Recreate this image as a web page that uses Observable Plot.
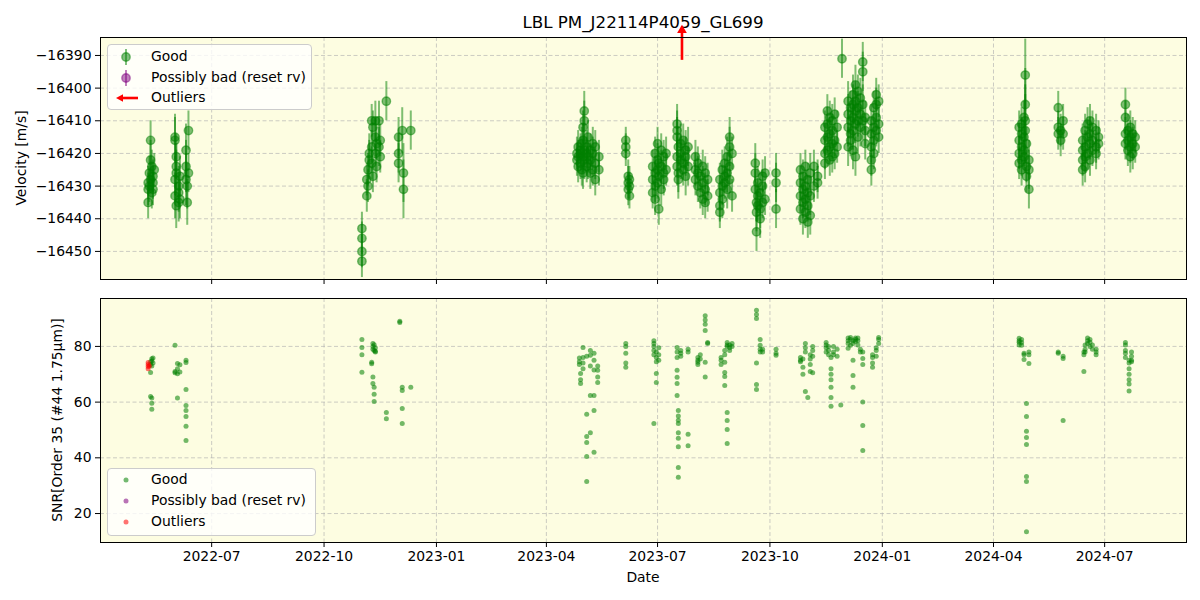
<!DOCTYPE html>
<html>
<head>
<meta charset="utf-8">
<script src="https://cdn.jsdelivr.net/npm/d3@7"></script>
<script src="https://cdn.jsdelivr.net/npm/@observablehq/plot@0.6"></script>
<style>
  body { margin: 0; background: #fff; font-family: "DejaVu Sans", sans-serif; }
  #wrap { position: relative; width: 1200px; height: 600px; overflow: hidden; }
  #wrap svg.plot { position: absolute; left: 0; }
  .legend { position: absolute; background: rgba(255,255,255,0.8); border: 1px solid #cccccc; border-radius: 4px; box-sizing: border-box; }
  .legend .item { position: absolute; left: 0; height: 20px; width: 100%; }
  .legend .item svg { position: absolute; left: 0; top: 0; }
  .legend .item span { position: absolute; left: 43px; top: 1px; font-size: 13.9px; color: #000; white-space: nowrap; }
  #title { position: absolute; left: 343px; width: 600px; top: 12px; text-align: center; font-size: 16.7px; }
</style>
</head>
<body>
<div id="wrap">
  <div id="title">LBL PM_J22114P4059_GL699</div>
</div>
<script>
// ---------------- data ----------------
const xTickDates = ["2022-07-01","2022-10-01","2023-01-01","2023-04-01","2023-07-01","2023-10-01","2024-01-01","2024-04-01","2024-07-01"];
const velocityTicks = [-16450, -16440, -16430, -16420, -16410, -16400, -16390];
const snrTicks = [20, 40, 60, 80];

// velocity observations: one date, several values, one typical error
const rvDates = [
  "2022-05-10","2022-05-11","2022-05-12","2022-05-13","2022-05-14","2022-05-15",
  "2022-06-01","2022-06-02","2022-06-04","2022-06-05","2022-06-10","2022-06-11","2022-06-12",
  "2022-11-01","2022-11-05","2022-11-06","2022-11-07","2022-11-09","2022-11-10","2022-11-12","2022-11-13","2022-11-15","2022-11-16","2022-11-21",
  "2022-12-01","2022-12-04","2022-12-05","2022-12-11",
  "2023-04-26","2023-04-27","2023-04-29","2023-04-30","2023-05-01","2023-05-02","2023-05-04","2023-05-05","2023-05-07","2023-05-09","2023-05-11","2023-05-14",
  "2023-06-05","2023-06-07","2023-06-08",
  "2023-06-27","2023-06-29","2023-07-01","2023-07-02","2023-07-04","2023-07-06","2023-07-08",
  "2023-07-17","2023-07-18","2023-07-20","2023-07-22","2023-07-24","2023-07-26",
  "2023-08-01","2023-08-03","2023-08-05","2023-08-07","2023-08-09","2023-08-11",
  "2023-08-21","2023-08-23","2023-08-25","2023-08-27","2023-08-29","2023-08-31",
  "2023-09-19","2023-09-20","2023-09-21","2023-09-23","2023-09-25","2023-09-27","2023-10-06",
  "2023-10-26","2023-10-28","2023-10-30","2023-11-01","2023-11-03","2023-11-06","2023-11-09",
  "2023-11-15","2023-11-17","2023-11-19","2023-11-21","2023-11-23","2023-11-25","2023-11-29",
  "2023-12-04","2023-12-06","2023-12-08","2023-12-10","2023-12-12","2023-12-14","2023-12-16","2023-12-18",
  "2023-12-23","2023-12-25","2023-12-27","2023-12-29",
  "2024-04-22","2024-04-24","2024-04-26","2024-04-27","2024-04-28","2024-04-30",
  "2024-05-24","2024-05-26","2024-05-28",
  "2024-06-13","2024-06-15","2024-06-17","2024-06-19","2024-06-21","2024-06-24","2024-06-26",
  "2024-07-18","2024-07-20","2024-07-22","2024-07-24","2024-07-26"
];
const rvValues = [
  [-16429,-16431,-16435],[-16426,-16430],[-16422,-16416,-16428],[-16424,-16432],[-16429,-16427,-16431],[-16425],
  [-16415,-16416,-16428,-16433],[-16421,-16424,-16426,-16436],[-16430,-16435,-16432],[-16427,-16434],[-16419,-16424,-16428],[-16430,-16435],[-16413,-16426],
  [-16443,-16446,-16450,-16453],[-16428,-16433],[-16430,-16425],[-16420,-16422],[-16410,-16418,-16423],[-16412,-16427],[-16410,-16415,-16420],[-16424,-16417],[-16418,-16410],[-16416,-16421],[-16404],
  [-16415,-16420,-16423],[-16413],[-16431,-16426],[-16413],
  [-16420,-16422],[-16418,-16421,-16424],[-16419,-16423,-16420],[-16417,-16425],[-16412,-16416,-16421,-16426],[-16407,-16410,-16419,-16422],[-16420,-16424,-16418],[-16415,-16423,-16421],[-16419,-16422,-16426],[-16417,-16420,-16425],[-16418,-16423,-16428],[-16421,-16425],
  [-16416,-16420,-16418],[-16427,-16429,-16431],[-16428,-16433,-16430],
  [-16424,-16428,-16432],[-16420,-16426,-16430,-16434],[-16417,-16422,-16425,-16429],[-16437,-16427,-16423],[-16419,-16424,-16431],[-16421,-16426,-16428],[-16420,-16425],
  [-16411,-16413,-16415,-16421,-16424],[-16418,-16426,-16428],[-16417,-16422,-16420],[-16416,-16423,-16425],[-16419,-16421,-16427],[-16418,-16424],
  [-16421,-16425,-16428],[-16423,-16430,-16426],[-16427,-16432],[-16424,-16429,-16434],[-16426,-16431,-16435],[-16428,-16433],
  [-16428,-16432,-16436,-16438],[-16425,-16430,-16434],[-16423,-16427,-16429],[-16421,-16426,-16431],[-16415,-16418,-16424,-16428],[-16420,-16433],
  [-16423,-16426,-16431],[-16435,-16438,-16444],[-16429,-16433,-16436],[-16432,-16437,-16440],[-16427,-16430,-16435],[-16426,-16434],[-16426,-16429,-16437],
  [-16425,-16429,-16433,-16437],[-16427,-16431,-16435,-16440],[-16424,-16430,-16434,-16438],[-16428,-16432,-16436,-16441],[-16426,-16433,-16439],[-16424,-16430],[-16427,-16429],
  [-16412,-16416,-16420,-16423],[-16407,-16411,-16415,-16419],[-16409,-16414,-16418,-16422],[-16410,-16413,-16417,-16421],[-16408,-16416,-16420],[-16412,-16418],[-16391],
  [-16404,-16408,-16412,-16418],[-16406,-16410,-16414,-16416],[-16402,-16405,-16409,-16413,-16419],[-16399,-16404,-16407,-16411,-16421],[-16401,-16406,-16410,-16415],[-16403,-16408,-16412],[-16395,-16392,-16405,-16410],[-16409,-16413,-16417],
  [-16410,-16414,-16418,-16422,-16425],[-16406,-16412,-16416,-16420],[-16402,-16405,-16409,-16413],[-16404,-16411,-16415],
  [-16412,-16416,-16420,-16423],[-16411,-16414,-16418,-16422,-16425],[-16409,-16415,-16419,-16421],[-16396,-16405,-16410,-16413],[-16417,-16424,-16427],[-16422,-16425,-16431],
  [-16406,-16412,-16414],[-16413,-16416],[-16410,-16414],
  [-16416,-16419,-16422,-16425],[-16413,-16418,-16421,-16424],[-16411,-16415,-16420],[-16410,-16414,-16417,-16422],[-16412,-16416,-16419],[-16413,-16418,-16420],[-16415,-16417],
  [-16405,-16409,-16414,-16417],[-16413,-16416,-16419],[-16412,-16415,-16418,-16421],[-16414,-16417,-16420],[-16415,-16418]
];
const rvErrors = [
  5,5,6,5,5,5,
  7,7,6,6,8,7,6,
  5,5,5,6,5,5,6,5,6,5,6,
  6,7,9,6,
  5,5,5,5,5,6,5,5,5,5,5,5,
  4,5,4,
  5,5,5,5,5,5,5,
  6,6,6,5,6,6,
  5,5,5,5,5,5,
  5,6,5,6,6,5,
  6,6,5,6,5,5,6,
  5,5,5,5,6,5,5,
  5,5,5,5,5,5,6,
  6,5,6,6,5,6,6,5,
  5,5,5,5,
  5,5,5,11,5,6,
  5,5,5,
  5,5,5,5,5,5,5,
  5,5,5,5,5
];

// outlier arrow (value above the plotted range)
const outlierRvDates = ["2023-07-21"];

// SNR observations
const snrDates = [
  "2022-05-12","2022-05-13","2022-05-14","2022-06-01","2022-06-03","2022-06-05","2022-06-10",
  "2022-11-01","2022-11-09","2022-11-10","2022-11-11","2022-11-12","2022-11-21","2022-12-02","2022-12-04","2022-12-11",
  "2023-04-28","2023-04-29","2023-05-01","2023-05-04","2023-05-07","2023-05-10","2023-05-13",
  "2023-06-05","2023-06-28","2023-06-30","2023-07-02",
  "2023-07-17","2023-07-18","2023-07-20","2023-07-26",
  "2023-08-03","2023-08-05","2023-08-09","2023-08-11",
  "2023-08-22","2023-08-25","2023-08-27","2023-08-29","2023-08-31",
  "2023-09-20","2023-09-23","2023-09-25","2023-10-06",
  "2023-10-26","2023-10-28","2023-10-30","2023-11-01","2023-11-03","2023-11-05",
  "2023-11-16","2023-11-18","2023-11-20","2023-11-22","2023-11-25","2023-11-28",
  "2023-12-04","2023-12-06","2023-12-08","2023-12-10","2023-12-12","2023-12-14","2023-12-16",
  "2023-12-24","2023-12-27","2023-12-29",
  "2024-04-22","2024-04-24","2024-04-26","2024-04-28","2024-04-30",
  "2024-05-24","2024-05-28",
  "2024-06-14","2024-06-15","2024-06-17","2024-06-19","2024-06-21","2024-06-24",
  "2024-07-18","2024-07-21","2024-07-23"
];
const snrValues = [
  [74.5,73.5,70.6,62],[75.6,74.8,73,61.5,59.6,57.4],[75.8,74],[80.4,71,70.5],[72,70.2,73.9,61.5],[70.8,73.4],[75,74.2,64.5,58.8,57,54.8,51.3,46.2],
  [82.5,79.6,77,70.7],[74.3,73.8],[81,80,79,69,66.7],[80.6,78.5,65.3,62.8,60.2],[79.5,78.3,78],[56.3,54],[88.6,89],[65.3,64.2,57.7,52.3],[65.3],
  [74.5,73.5,75.8],[70.3,68,66.7],[79.6,76,74,72],[55.6,47.7,45.5,40.5,31.5,76.5],[78.5,76.8,73,62.4,49],[77.5,75,71.5,62.4,57,42],[71.4,69,67,73],
  [81,80,77.5,74,72.5],[82,81,80,78.5,77,52.3],[78,76,74.5,70.3,67],[79.5,77,75],
  [79.6,78,76,71.4,68.9,66.7,62.4],[57,55,53.5,52.3,49,47,44,36.5,33],[78.5,77.5,76.5],[79,78,44.3,48.5],
  [76,75,74.3,73.5],[77,75.5],[91,89.5,88,85.7,74.3,69],[81.4,81],
  [76,75,73.5],[78.5,77,74.3,70.6,69.2,66],[81.4,80.5,80,56.3,53.4,50.2,45.1],[80.5,79.5,78.5],[81,80],
  [93,91.5,90,74,66.3,64.5],[80.4,79,78,82.5],[79,78],[79,77.5,76.8],
  [76,75,74.5],[75.5,72.5,70],[81,79.5,78,63.8],[61.7],[77,75.5,71,73.5],[80,78.5,76.5,70.5],
  [81.4,80.5,79.5,78],[80,78.5,77],[76,72,70,68,65.3,61.7,58.5],[80,78,77],[79,76.5],[59],
  [83,82,81,79.3],[83.2,82.5,80.4],[82,81,75,69.6,65.3],[83,82.5,81.8],[83,82,80.5],[79,78],[78,75.7,73.5,60,51.6,42.6],
  [77,76,74,72.5],[79.5,78.5,76.5],[83.2,82.5,81],
  [82.9,82,81.5,80.5],[82.5,81.4,80.4],[77.5,77,75.3],[59.5,54.8,49.5,47.3,44.8,33.3,31.5,13.5],[78,77,73.9],
  [78,77.5],[76.5,75.7,53.4],
  [77,78,71],[78,79,80.5],[81,82,83],[82.5,81.5,80],[80.5,79],[78,77,79],
  [81.4,80.5,78.5,77.5,76],[75,74,72,70,68,66.5,64],[78,76.5,75,74.5]
];
const outlierSnrDates = ["2022-05-10","2022-05-10","2022-05-10","2022-05-10","2022-05-11"];
const outlierSnrValues = [72.0, 72.8, 73.5, 74.2, 73.0];

// ---------------- build tables ----------------
const parseDay = s => new Date(s + "T00:00:00Z");
const rvRows = rvDates.flatMap((d, i) => rvValues[i].map(v => ({date: parseDay(d), v, e: rvErrors[i]})));
const snrRows = snrDates.flatMap((d, i) => snrValues[i].map(v => ({date: parseDay(d), v})));
const outSnrRows = outlierSnrDates.map((d, i) => ({date: parseDay(d), v: outlierSnrValues[i]}));
const outRvRows = outlierRvDates.map(d => ({date: parseDay(d)}));
const xTicks = xTickDates.map(parseDay);
const xDomain = [parseDay("2022-04-01"), parseDay("2024-09-06")];

const bg = "#fdfde1";
const gridStyle = {stroke: "#b0b0b0", strokeOpacity: 0.7, strokeWidth: 0.9, strokeDasharray: "4,2.5"};
const plotStyle = {fontFamily: "DejaVu Sans", fontSize: "13.9px", background: "transparent", color: "#000"};
const green = "#008000";

const topPlot = Plot.plot({
  width: 1200, height: 290,
  marginTop: 37, marginBottom: 11, marginLeft: 100, marginRight: 14,
  style: plotStyle,
  x: {type: "utc", domain: xDomain},
  y: {domain: [-16458.6, -16384.5]},
  marks: [
    Plot.frame({fill: bg, stroke: "none"}),
    Plot.gridX(xTicks, gridStyle),
    Plot.gridY(velocityTicks, gridStyle),
    Plot.ruleX(rvRows, {x: "date", y1: d => d.v - d.e, y2: d => d.v + d.e, stroke: green, strokeOpacity: 0.5, strokeWidth: 2}),
    Plot.dot(rvRows, {x: "date", y: "v", r: 4.2, fill: green, fillOpacity: 0.5, stroke: green, strokeOpacity: 0.5, strokeWidth: 1.4}),
    Plot.ruleX(outRvRows, {x: "date", y1: -16391.5, y2: -16383.2, stroke: "red", strokeWidth: 2.6}),
    Plot.dot(outRvRows, {x: "date", y: -16382.3, symbol: "triangle", r: 3.6, fill: "red", stroke: "none"}),
    Plot.axisX(xTicks, {tickFormat: () => "", tickSize: 5, label: null}),
    Plot.axisY(velocityTicks, {tickFormat: d3.format("d"), tickSize: 5, tickPadding: 4, label: null}),
    Plot.frame({stroke: "#000", strokeWidth: 1})
  ]
});
topPlot.classList.add("plot");
topPlot.style.top = "0px";

const bottomPlot = Plot.plot({
  width: 1200, height: 310,
  marginTop: 8, marginBottom: 58, marginLeft: 100, marginRight: 14,
  style: plotStyle,
  x: {type: "utc", domain: xDomain},
  y: {domain: [9.6, 97.2]},
  marks: [
    Plot.frame({fill: bg, stroke: "none"}),
    Plot.gridX(xTicks, gridStyle),
    Plot.gridY(snrTicks, gridStyle),
    Plot.dot(snrRows, {x: "date", y: "v", r: 2.5, fill: green, fillOpacity: 0.55, stroke: "none"}),
    Plot.dot(outSnrRows, {x: "date", y: "v", r: 2.5, fill: "red", fillOpacity: 0.55, stroke: "none"}),
    Plot.axisX(xTicks, {tickFormat: d3.utcFormat("%Y-%m"), tickSize: 5, tickPadding: 4, label: null}),
    Plot.axisY(snrTicks, {tickFormat: d3.format("d"), tickSize: 5, tickPadding: 4, label: null}),
    Plot.frame({stroke: "#000", strokeWidth: 1})
  ]
});
bottomPlot.classList.add("plot");
bottomPlot.style.top = "290px";

const wrap = document.getElementById("wrap");
wrap.appendChild(topPlot);
wrap.appendChild(bottomPlot);

// axis titles
d3.select(topPlot).append("text")
  .attr("transform", "translate(21,158) rotate(-90)")
  .attr("text-anchor", "middle").attr("dominant-baseline", "central")
  .attr("font-size", "13.9px").attr("fill", "#000")
  .text("Velocity [m/s]");
d3.select(bottomPlot).append("text")
  .attr("transform", "translate(57,130) rotate(-90)")
  .attr("text-anchor", "middle").attr("dominant-baseline", "central")
  .attr("font-size", "13.9px").attr("fill", "#000")
  .text("SNR[Order 35 (#44 1.75μm)]");
d3.select(bottomPlot).append("text")
  .attr("x", 643).attr("y", 287)
  .attr("text-anchor", "middle").attr("dominant-baseline", "central")
  .attr("font-size", "13.9px").attr("fill", "#000")
  .text("Date");

// legends
function legend(left, topPx, width, height, items) {
  const box = document.createElement("div");
  box.className = "legend";
  Object.assign(box.style, {left: left + "px", top: topPx + "px", width: width + "px", height: height + "px"});
  items.forEach((it) => {
    const row = document.createElement("div");
    row.className = "item";
    row.style.top = (it.y - topPx - 10) + "px";
    row.innerHTML = `<svg width="42" height="20">${it.glyph}</svg><span>${it.label}</span>`;
    box.appendChild(row);
  });
  wrap.appendChild(box);
}
const errGlyph = c => `<line x1="18" x2="18" y1="2" y2="18" stroke="${c}" stroke-opacity="0.5" stroke-width="2"/><circle cx="18" cy="10" r="4.2" fill="${c}" fill-opacity="0.5" stroke="${c}" stroke-opacity="0.5" stroke-width="1.4"/>`;
const dotGlyph = c => `<circle cx="18" cy="10" r="2.5" fill="${c}" fill-opacity="0.55"/>`;
legend(107, 44, 205, 66, [
  {y: 56, label: "Good", glyph: errGlyph(green)},
  {y: 77, label: "Possibly bad (reset rv)", glyph: errGlyph("purple")},
  {y: 97, label: "Outliers", glyph: `<line x1="14" x2="30" y1="10" y2="10" stroke="red" stroke-width="2.6"/><path d="M8,10 L15,6.3 L15,13.7 Z" fill="red"/>`}
]);
legend(107, 468, 209, 68, [
  {y: 479, label: "Good", glyph: dotGlyph(green)},
  {y: 500, label: "Possibly bad (reset rv)", glyph: dotGlyph("purple")},
  {y: 521, label: "Outliers", glyph: dotGlyph("red")}
]);
</script>
</body>
</html>
